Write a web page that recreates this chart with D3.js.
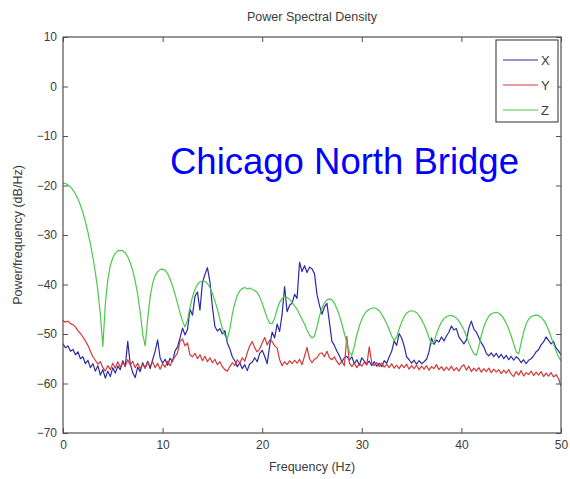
<!DOCTYPE html>
<html>
<head>
<meta charset="utf-8">
<script src="https://cdn.jsdelivr.net/npm/d3@7"></script>
<style>
  html, body { margin: 0; padding: 0; background: #fff; }
  svg { display: block; font-family: "Liberation Sans", Arial, Helvetica, sans-serif; }
</style>
</head>
<body>
<svg id="chart" width="570" height="479"></svg>
<script>
// Frequency grid (Hz), 0.25 Hz bins from 0 to 50
const freqHz = d3.range(0, 201).map(i => i * 0.25);

// PSD of the X axis acceleration (dB/Hz)
const psdX = [
  -52.0,-52.8,-52.4,-53.5,-53.1,-54.2,-53.6,-55.0,-54.6,-56.0,-55.3,-56.8,-56.0,-57.5,-56.4,-58.3,
  -57.2,-58.9,-57.5,-58.6,-56.8,-57.9,-56.5,-57.2,-55.4,-56.6,-51.5,-56.0,-57.8,-58.8,-56.7,-57.6,
  -55.8,-56.9,-55.5,-57.0,-55.2,-53.5,-51.2,-54.8,-55.9,-55.1,-56.3,-54.9,-55.6,-53.4,-52.6,-50.8,
  -48.8,-50.2,-49.1,-45.0,-46.2,-42.4,-41.5,-45.2,-39.6,-38.0,-36.6,-39.4,-44.5,-48.5,-49.4,-48.9,
  -50.0,-49.3,-51.8,-53.0,-54.6,-55.4,-56.6,-55.8,-57.0,-56.2,-57.4,-56.0,-55.7,-54.8,-55.6,-53.9,
  -53.3,-54.5,-56.0,-52.4,-49.6,-50.8,-48.0,-49.5,-46.0,-40.4,-45.5,-44.2,-43.8,-42.0,-42.8,-35.5,
  -37.4,-36.2,-37.6,-36.5,-36.8,-37.8,-42.0,-44.2,-46.0,-44.5,-43.8,-47.6,-51.5,-52.3,-53.5,-54.4,
  -55.6,-54.8,-54.5,-55.3,-54.6,-56.0,-55.2,-56.3,-54.8,-55.5,-56.1,-55.5,-56.4,-55.6,-56.5,-55.9,
  -56.6,-55.4,-55.9,-54.6,-53.5,-51.4,-52.3,-49.9,-50.8,-52.4,-54.6,-55.2,-55.9,-55.3,-56.1,-55.4,
  -56.0,-55.6,-55.1,-53.6,-50.8,-52.1,-51.2,-51.6,-50.6,-51.4,-50.4,-49.6,-48.4,-49.2,-48.9,-50.6,
  -51.3,-52.0,-51.2,-48.8,-47.4,-49.0,-49.6,-50.7,-51.8,-52.6,-53.9,-54.4,-53.8,-54.6,-53.9,-54.8,
  -54.1,-55.0,-54.3,-55.2,-54.5,-55.3,-54.6,-55.0,-55.8,-55.2,-56.0,-55.3,-55.0,-54.4,-53.6,-53.2,
  -52.2,-51.6,-50.6,-51.3,-52.0,-51.5,-52.8,-53.4,-54.2
];

// PSD of the Y axis acceleration (dB/Hz)
const psdY = [
  -47.3,-47.6,-47.4,-47.9,-48.1,-48.6,-49.3,-49.9,-50.6,-51.4,-52.3,-53.5,-54.6,-55.3,-56.1,-55.6,
  -56.8,-57.5,-56.4,-57.2,-55.9,-56.9,-55.6,-56.7,-55.8,-56.5,-55.2,-56.3,-55.5,-56.8,-55.9,-57.0,
  -56.1,-56.9,-55.7,-56.5,-55.6,-56.8,-55.9,-57.1,-56.0,-56.7,-55.5,-56.4,-55.2,-54.6,-53.8,-51.5,
  -51.0,-52.4,-51.8,-54.2,-54.6,-53.9,-55.0,-54.2,-55.4,-54.5,-55.6,-54.8,-55.8,-55.1,-56.2,-55.6,
  -56.6,-57.2,-57.5,-56.6,-55.8,-56.4,-55.2,-55.9,-54.8,-55.5,-53.8,-52.4,-51.5,-52.8,-53.6,-53.0,
  -51.8,-50.7,-52.2,-51.2,-51.5,-52.4,-52.8,-55.2,-56.4,-55.6,-56.2,-55.4,-56.0,-55.3,-55.9,-55.1,
  -56.2,-54.5,-52.7,-55.0,-55.8,-55.1,-54.8,-54.0,-53.8,-54.6,-53.5,-54.8,-55.2,-54.6,-55.6,-56.2,
  -55.5,-56.4,-50.5,-55.8,-56.6,-55.9,-56.8,-56.0,-56.5,-55.7,-56.3,-52.6,-55.9,-56.4,-55.8,-56.6,
  -55.9,-56.7,-56.1,-56.8,-56.0,-56.9,-56.3,-57.0,-56.2,-56.8,-56.1,-57.1,-56.4,-57.0,-56.3,-57.2,
  -56.5,-57.1,-56.4,-57.3,-56.6,-57.0,-56.2,-57.2,-56.6,-57.4,-56.7,-57.3,-56.5,-57.4,-56.8,-57.5,
  -56.6,-56.2,-57.3,-56.5,-57.6,-56.9,-57.5,-56.8,-57.7,-57.0,-57.6,-56.9,-57.8,-57.1,-57.7,-57.2,
  -58.0,-57.3,-57.9,-57.2,-58.1,-58.6,-57.6,-58.3,-57.4,-58.5,-57.8,-58.2,-57.5,-58.4,-57.7,-58.3,
  -57.6,-58.6,-57.9,-58.5,-57.8,-58.7,-58.2,-59.0,-60.5
];

// PSD of the Z axis acceleration (dB/Hz)
const psdZ = [
  -19.5,-19.6,-19.9,-20.3,-20.9,-21.7,-22.7,-24.0,-25.5,-27.3,-29.4,-31.8,-34.5,-37.6,-41.2,-46.0,
  -52.5,-44.0,-39.0,-36.2,-34.6,-33.7,-33.2,-33.1,-33.2,-33.6,-34.4,-35.6,-37.2,-39.3,-42.0,-45.6,
  -50.0,-52.4,-47.0,-42.5,-39.8,-38.2,-37.4,-37.0,-36.9,-37.1,-37.8,-38.9,-40.3,-42.0,-43.8,-45.7,
  -47.4,-48.6,-47.2,-44.6,-42.5,-41.0,-40.0,-39.5,-39.3,-39.4,-39.8,-40.6,-41.8,-43.3,-45.0,-47.0,
  -48.9,-50.3,-51.0,-49.0,-46.0,-43.8,-42.2,-41.3,-40.8,-40.6,-40.9,-40.7,-41.0,-41.2,-41.6,-42.5,
  -43.8,-45.3,-46.8,-47.8,-47.9,-46.8,-45.0,-43.6,-42.8,-42.5,-42.6,-43.0,-43.6,-44.3,-45.0,-46.0,
  -47.0,-48.0,-49.2,-50.2,-50.8,-50.4,-48.6,-46.4,-44.8,-43.7,-43.1,-42.9,-43.1,-43.8,-44.9,-46.3,
  -48.0,-49.9,-51.8,-53.6,-54.3,-52.5,-50.2,-48.4,-47.0,-46.0,-45.4,-45.0,-44.8,-44.7,-44.9,-45.3,
  -46.0,-46.9,-47.9,-49.1,-50.4,-51.3,-50.6,-49.0,-47.6,-46.5,-45.8,-45.4,-45.3,-45.4,-45.7,-46.3,
  -47.1,-48.1,-49.3,-50.8,-52.0,-51.6,-50.0,-48.6,-47.6,-46.9,-46.5,-46.3,-46.3,-46.4,-46.8,-47.4,
  -48.2,-49.2,-50.4,-51.8,-53.0,-54.0,-54.3,-52.5,-50.3,-48.6,-47.3,-46.4,-45.9,-45.7,-45.6,-45.8,
  -46.2,-46.9,-47.8,-49.0,-50.4,-52.0,-53.6,-54.0,-51.8,-49.6,-48.0,-47.0,-46.5,-46.3,-46.2,-46.3,
  -46.6,-47.2,-48.0,-49.2,-50.6,-52.0,-53.4,-54.6,-55.4
];

const seriesNames = ["X", "Y", "Z"];
const seriesColors = ["#2a2aa6", "#d23a3a", "#4cc84c"];
const xTicks = [0, 10, 20, 30, 40, 50];
const yTicks = [10, 0, -10, -20, -30, -40, -50, -60, -70];

const titleText = "Power Spectral Density";
const xLabelText = "Frequency (Hz)";
const yLabelText = "Power/frequency (dB/Hz)";
const noteText = "Chicago North Bridge";

const svg = d3.select("#chart");
const plotL = 63, plotR = 561, plotT = 37, plotB = 433;
const axisColor = "#505050";
const textColor = "#3c3c3c";

const x = d3.scaleLinear().domain([0, 50]).range([plotL, plotR]);
const y = d3.scaleLinear().domain([-70, 10]).range([plotB, plotT]);

// Plot traces, clipped to the axes box
svg.append("clipPath").attr("id", "plotClip")
  .append("rect").attr("x", plotL).attr("y", plotT)
  .attr("width", plotR - plotL).attr("height", plotB - plotT);

const line = d3.line().x((d, i) => x(freqHz[i])).y(d => y(d));
const allSeries = [psdX, psdY, psdZ];
const traces = svg.append("g").attr("clip-path", "url(#plotClip)");
allSeries.forEach((vals, k) => {
  traces.append("path")
    .datum(vals)
    .attr("d", line)
    .attr("fill", "none")
    .attr("stroke", seriesColors[k])
    .attr("stroke-width", 1.2)
    .attr("stroke-linejoin", "round");
});

// Axes with inward ticks on all four sides
function styleAxis(g, showText) {
  g.select(".domain").remove();
  g.selectAll(".tick line").attr("stroke", axisColor).attr("stroke-width", 1);
  g.selectAll(".tick text")
    .attr("fill", textColor)
    .style("font-size", "12px")
    .style("font-family", "'Liberation Sans', Arial, sans-serif")
    .style("display", showText ? null : "none");
}

svg.append("g").attr("transform", `translate(0,${plotB})`)
  .call(d3.axisBottom(x).tickValues(xTicks).tickFormat(d3.format("d")).tickSize(-5).tickPadding(7))
  .call(g => styleAxis(g, true));
svg.append("g").attr("transform", `translate(0,${plotT})`)
  .call(d3.axisTop(x).tickValues(xTicks).tickSize(-5).tickFormat(""))
  .call(g => styleAxis(g, false));
svg.append("g").attr("transform", `translate(${plotL},0)`)
  .call(d3.axisLeft(y).tickValues(yTicks).tickFormat(d3.format("d")).tickSize(-5).tickPadding(6))
  .call(g => styleAxis(g, true));
svg.append("g").attr("transform", `translate(${plotR},0)`)
  .call(d3.axisRight(y).tickValues(yTicks).tickSize(-5).tickFormat(""))
  .call(g => styleAxis(g, false));

// Axes box
svg.append("rect")
  .attr("x", plotL).attr("y", plotT)
  .attr("width", plotR - plotL).attr("height", plotB - plotT)
  .attr("fill", "none").attr("stroke", axisColor).attr("stroke-width", 1.2);

// Title and axis labels
svg.append("text")
  .attr("x", (plotL + plotR) / 2).attr("y", 21)
  .attr("text-anchor", "middle").attr("fill", textColor)
  .style("font-size", "12.5px").text(titleText);

svg.append("text")
  .attr("x", (plotL + plotR) / 2).attr("y", 471)
  .attr("text-anchor", "middle").attr("fill", textColor)
  .style("font-size", "12.5px").text(xLabelText);

svg.append("text")
  .attr("transform", `translate(22,${(plotT + plotB) / 2}) rotate(-90)`)
  .attr("text-anchor", "middle").attr("fill", textColor)
  .style("font-size", "12.5px").text(yLabelText);

// Annotation
svg.append("text")
  .attr("x", 170).attr("y", 174)
  .attr("fill", "#0000ff")
  .style("font-size", "36.5px")
  .text(noteText);

// Legend
const legend = svg.append("g");
legend.append("rect")
  .attr("x", 496).attr("y", 40).attr("width", 62).attr("height", 82)
  .attr("fill", "#fff").attr("stroke", axisColor).attr("stroke-width", 1.2);
seriesNames.forEach((name, k) => {
  const ly = 60 + k * 25;
  legend.append("line")
    .attr("x1", 503).attr("x2", 538).attr("y1", ly).attr("y2", ly)
    .attr("stroke", seriesColors[k]).attr("stroke-width", 1.2);
  legend.append("text")
    .attr("x", 541).attr("y", ly).attr("dy", "0.36em")
    .attr("fill", textColor).style("font-size", "13px")
    .text(name);
});
</script>
</body>
</html>
